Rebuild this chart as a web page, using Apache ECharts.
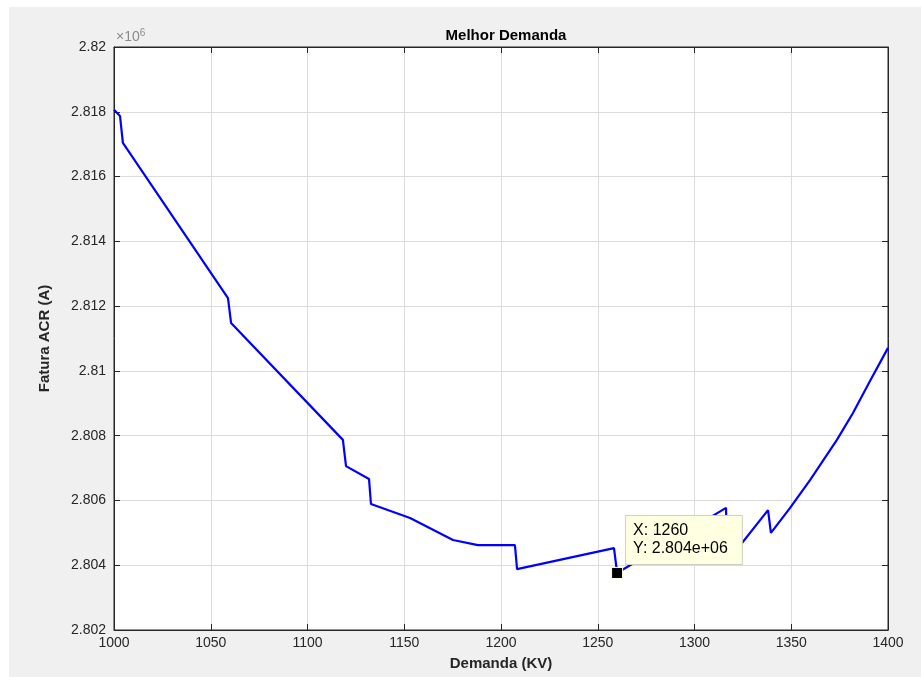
<!DOCTYPE html>
<html>
<head>
<meta charset="utf-8">
<script src="https://cdn.jsdelivr.net/npm/echarts@6/dist/echarts.min.js"></script>
<style>
  html, body { margin: 0; padding: 0; background: #fff; }
  #chart { position: absolute; left: 9px; top: 7px; width: 912px; height: 670px; background: #f0f0f0; }
</style>
</head>
<body>
<div id="chart"></div>
<script>
// demanda (KV) e fatura ACR
var demanda = [1000, 1003.1, 1004.6, 1058.9, 1060.5, 1118.3, 1119.9, 1131.8, 1132.8, 1153.0,
               1175.2, 1188.1, 1207.2, 1208.3, 1258.4, 1260, 1316.3, 1316.8, 1338.0, 1339.5,
               1349.4, 1359.7, 1373.6, 1381.9, 1390.7, 1400];
var fatura = [2818060, 2817870, 2817040, 2812250, 2811480, 2807870, 2807060, 2806660, 2805890, 2805460,
              2804780, 2804620, 2804620, 2803880, 2804530, 2803760, 2805770, 2804100, 2805700, 2805000,
              2805770, 2806630, 2807870, 2808700, 2809690, 2810710];
var xTicks = [1000, 1050, 1100, 1150, 1200, 1250, 1300, 1350, 1400];
var datatip = [1260, 2803760];

var chart = echarts.init(document.getElementById('chart'));

var txt = '#262626';
var font = 'Liberation Sans';

var option = {
    backgroundColor: '#f0f0f0',
    animation: false,
    title: {
        text: 'Melhor Demanda',
        left: 492, top: 16, textAlign: 'center',
        textStyle: { fontFamily: font, fontSize: 15, fontWeight: 'bold', color: '#000' }
    },
    graphic: [{
        type: 'text', left: 107, top: 21,
        style: {
            text: '{a|×10}{b|6}',
            rich: {
                a: { fontFamily: font, fontSize: 14, fill: '#8a8a8a' },
                b: { fontFamily: font, fontSize: 10, fill: '#8a8a8a', verticalAlign: 'top', padding: [0, 0, 8, 0] }
            }
        }
    }],
    grid: {
        left: 105, right: 33, top: 40, bottom: 47,
        show: true, backgroundColor: '#fff', borderColor: '#262626', borderWidth: 1
    },
    xAxis: [{
        type: 'value', min: 1000, max: 1400, interval: 50,
        name: 'Demanda (KV)', nameLocation: 'middle', nameGap: 26,
        nameTextStyle: { fontFamily: font, fontSize: 15, fontWeight: 'bold', color: txt },
        axisLine: { show: true, onZero: false, lineStyle: { color: '#262626' } },
        axisTick: { inside: true, length: 6, lineStyle: { color: '#262626' } },
        axisLabel: {
            fontFamily: font, fontSize: 14, color: txt, margin: 6,
            formatter: function (v) { return xTicks.indexOf(v) >= 0 ? String(v) : ''; }
        },
        splitLine: { show: true, lineStyle: { color: '#dcdcdc', width: 1 } }
    }, {
        type: 'value', min: 1000, max: 1400, interval: 50, position: 'top',
        axisLine: { show: true, lineStyle: { color: '#262626' } },
        axisTick: { inside: true, length: 6, lineStyle: { color: '#262626' } },
        axisLabel: { show: false }, splitLine: { show: false }
    }],
    yAxis: [{
        type: 'value', min: 2802000, max: 2820000, interval: 2000,
        name: 'Fatura ACR (A)', nameLocation: 'middle', nameGap: 62,
        nameTextStyle: { fontFamily: font, fontSize: 15, fontWeight: 'bold', color: txt },
        axisLine: { show: true, onZero: false, lineStyle: { color: '#262626' } },
        axisTick: { inside: true, length: 6, lineStyle: { color: '#262626' } },
        axisLabel: {
            fontFamily: font, fontSize: 14, color: txt, margin: 8,
            formatter: function (v) { return String(parseFloat((v / 1e6).toFixed(3))); }
        },
        splitLine: { show: true, lineStyle: { color: '#dcdcdc', width: 1 } }
    }, {
        type: 'value', min: 2802000, max: 2820000, interval: 2000, position: 'right',
        axisLine: { show: true, lineStyle: { color: '#262626' } },
        axisTick: { inside: true, length: 6, lineStyle: { color: '#262626' } },
        axisLabel: { show: false }, splitLine: { show: false }
    }],
    series: [{
        type: 'line',
        data: demanda.map(function (d, i) { return [d, fatura[i]]; }),
        showSymbol: false,
        lineStyle: { color: '#0000ff', width: 2.2 },
        markPoint: {
            symbol: 'rect', symbolSize: 11,
            itemStyle: { color: '#000', borderColor: '#ffffe0', borderWidth: 1 },
            label: {
                show: true, position: [15, -51],
                formatter: 'X: 1260\nY: 2.804e+06',
                fontFamily: font, fontSize: 16, lineHeight: 18, color: '#000', align: 'left',
                backgroundColor: '#ffffe1', borderColor: '#d0d0c0', borderWidth: 1,
                padding: [6, 14, 6, 7]
            },
            data: [{ coord: datatip }]
        },
        z: 3
    }]
};

chart.setOption(option);
</script>
</body>
</html>
